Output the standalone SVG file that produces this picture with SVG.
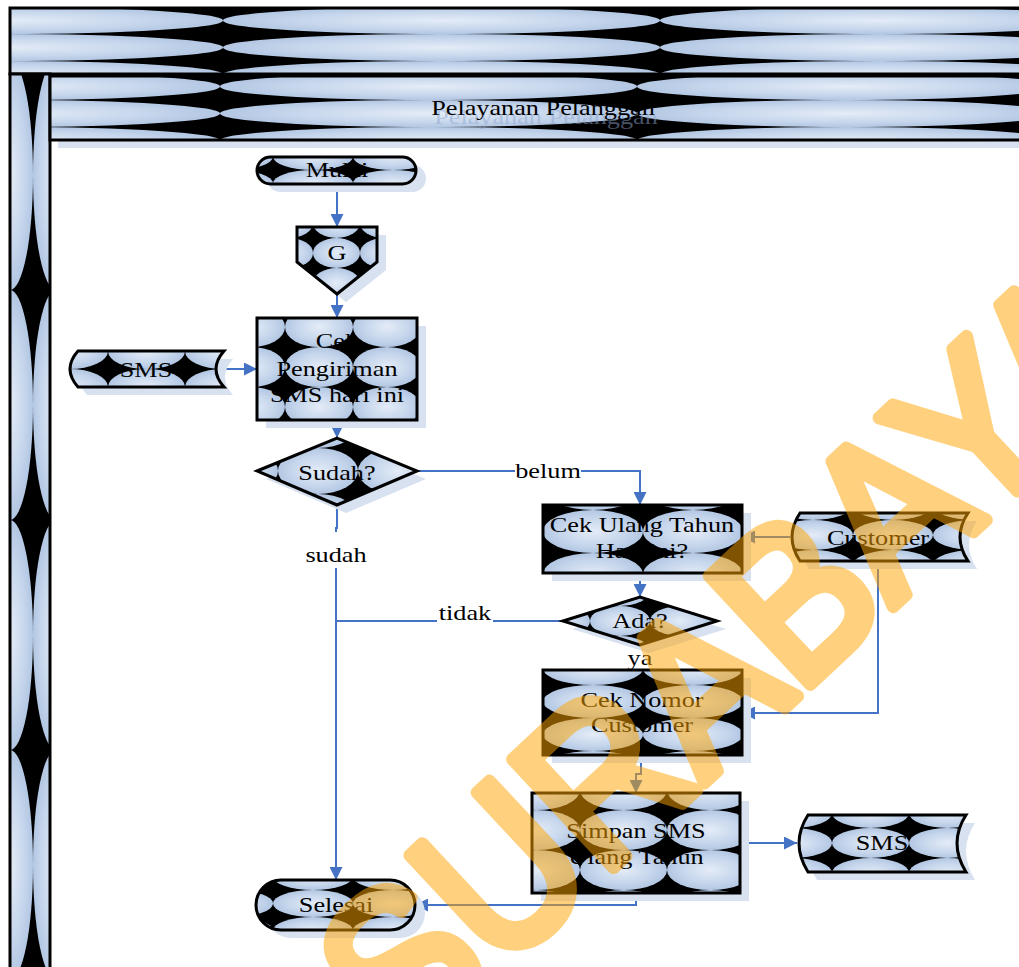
<svg xmlns="http://www.w3.org/2000/svg" width="1019" height="967" viewBox="0 0 1019 967">
<style>
.t{font-family:"Liberation Serif","Times New Roman",serif;font-size:21px;fill:#000;text-anchor:middle}
.n{stroke:#000;stroke-width:3;stroke-linejoin:miter}
.sh{fill:#d7e1f0;stroke:none}
.c{fill:none;stroke:#4472c4;stroke-width:2}
.lb{fill:#fff}
.wm{font-family:"Liberation Sans",Arial,sans-serif;font-size:215px;fill:#ffa500;stroke:#ffa500;stroke-width:13;stroke-linejoin:round}
</style>
<defs>
<radialGradient id="rg" cx="0.5" cy="0.5" r="0.5">
<stop offset="0" stop-color="#e4ecf7"/>
<stop offset="0.65" stop-color="#c6d6ec"/>
<stop offset="1" stop-color="#b3c7e3"/>
</radialGradient>
<pattern id="pTop" patternUnits="userSpaceOnUse" x="223" y="7" width="437" height="27"><rect width="437" height="27" fill="#000"/><ellipse cx="218.5" cy="13.5" rx="218.5" ry="13.5" fill="url(#rg)"/></pattern>
<pattern id="pLane" patternUnits="userSpaceOnUse" x="220" y="73" width="417" height="27"><rect width="417" height="27" fill="#000"/><ellipse cx="208.5" cy="13.5" rx="208.5" ry="13.5" fill="url(#rg)"/></pattern>
<pattern id="pLeft" patternUnits="userSpaceOnUse" x="33" y="290" width="46" height="230"><rect width="46" height="230" fill="#000"/><ellipse cx="23" cy="115" rx="23" ry="115" fill="url(#rg)"/></pattern>
<pattern id="pMulai" patternUnits="userSpaceOnUse" x="273" y="143" width="80" height="27"><rect width="80" height="27" fill="#000"/><ellipse cx="40" cy="13.5" rx="40" ry="13.5" fill="url(#rg)"/></pattern>
<pattern id="pG" patternUnits="userSpaceOnUse" x="313" y="238" width="47" height="30"><rect width="47" height="30" fill="#000"/><ellipse cx="23.5" cy="15" rx="23.5" ry="15" fill="url(#rg)"/></pattern>
<pattern id="pCek1" patternUnits="userSpaceOnUse" x="285" y="307" width="68" height="40"><rect width="68" height="40" fill="#000"/><ellipse cx="34" cy="20" rx="34" ry="20" fill="url(#rg)"/></pattern>
<pattern id="pSms1" patternUnits="userSpaceOnUse" x="108" y="333" width="77" height="36"><rect width="77" height="36" fill="#000"/><ellipse cx="38.5" cy="18" rx="38.5" ry="18" fill="url(#rg)"/></pattern>
<pattern id="pSudah" patternUnits="userSpaceOnUse" x="278" y="448" width="80" height="46"><rect width="80" height="46" fill="#000"/><ellipse cx="40" cy="23" rx="40" ry="23" fill="url(#rg)"/></pattern>
<pattern id="pCek2" patternUnits="userSpaceOnUse" x="543" y="510" width="100" height="43"><rect width="100" height="43" fill="#000"/><ellipse cx="50" cy="21.5" rx="50" ry="21.5" fill="url(#rg)"/></pattern>
<pattern id="pCust" patternUnits="userSpaceOnUse" x="853" y="520" width="80" height="30"><rect width="80" height="30" fill="#000"/><ellipse cx="40" cy="15" rx="40" ry="15" fill="url(#rg)"/></pattern>
<pattern id="pAda" patternUnits="userSpaceOnUse" x="590" y="606" width="60" height="30"><rect width="60" height="30" fill="#000"/><ellipse cx="30" cy="15" rx="30" ry="15" fill="url(#rg)"/></pattern>
<pattern id="pCek3" patternUnits="userSpaceOnUse" x="543" y="685" width="100" height="33"><rect width="100" height="33" fill="#000"/><ellipse cx="50" cy="16.5" rx="50" ry="16.5" fill="url(#rg)"/></pattern>
<pattern id="pSimpan" patternUnits="userSpaceOnUse" x="580" y="810" width="87" height="40"><rect width="87" height="40" fill="#000"/><ellipse cx="43.5" cy="20" rx="43.5" ry="20" fill="url(#rg)"/></pattern>
<pattern id="pSms2" patternUnits="userSpaceOnUse" x="832" y="828" width="77" height="30"><rect width="77" height="30" fill="#000"/><ellipse cx="38.5" cy="15" rx="38.5" ry="15" fill="url(#rg)"/></pattern>
<pattern id="pSelesai" patternUnits="userSpaceOnUse" x="273" y="890" width="80" height="27"><rect width="80" height="27" fill="#000"/><ellipse cx="40" cy="13.5" rx="40" ry="13.5" fill="url(#rg)"/></pattern>
<marker id="ah" markerUnits="userSpaceOnUse" markerWidth="13" markerHeight="13" refX="13" refY="6.5" orient="auto" viewBox="0 0 13 13"><path d="M0,0 L13,6.5 L0,13 Z" fill="#4472c4"/></marker>
</defs>

<rect width="1019" height="967" fill="#fff"/>

<g id="pool">
<rect class="n" x="10" y="8" width="1020" height="66" fill="url(#pTop)"/>
<rect class="n" x="10" y="74" width="40" height="900" fill="url(#pLeft)"/>
<rect class="sh" x="58" y="140" width="970" height="8"/>
<rect class="n" x="50" y="76" width="980" height="64" fill="url(#pLane)"/>
<text class="t" fill-opacity="0.5" style="fill:#8fa6cc" transform="translate(546,124) scale(1.25,1)">Pelayanan Pelanggan</text>
<text class="t" transform="translate(543,115) scale(1.25,1)">Pelayanan Pelanggan</text>
</g>

<g id="connectors">
<path class="c" d="M337,184 V227" marker-end="url(#ah)"/>
<path class="c" d="M337,294 V318" marker-end="url(#ah)"/>
<path class="c" d="M223,369 H257" marker-end="url(#ah)"/>
<path class="c" d="M337,420 V438" marker-end="url(#ah)"/>
<path class="c" d="M417,471 H640 V505" marker-end="url(#ah)"/>
<path class="c" d="M337,505 V528 H336 V880" marker-end="url(#ah)"/>
<path class="c" d="M640,573 V597" marker-end="url(#ah)"/>
<path class="c" d="M563,621 H336"/>
<path class="c" d="M640,645 V670" marker-end="url(#ah)"/>
<path class="c" d="M790,537 H742" marker-end="url(#ah)"/>
<path class="c" d="M878,560 V713 H742" marker-end="url(#ah)"/>
<path class="c" d="M641,755 V774 H636 V793" marker-end="url(#ah)"/>
<path class="c" d="M740,843 H797" marker-end="url(#ah)"/>
<path class="c" d="M636,893 V905 H415" marker-end="url(#ah)"/>
<rect class="lb" x="515" y="461" width="66" height="20"/>
<text class="t" transform="translate(548,478) scale(1.25,1)">belum</text>
<rect class="lb" x="305" y="532" width="62" height="36"/>
<text class="t" transform="translate(336,562) scale(1.25,1)">sudah</text>
<rect class="lb" x="437" y="602" width="56" height="22"/>
<text class="t" transform="translate(465,620) scale(1.25,1)">tidak</text>
<rect class="lb" x="628" y="649" width="25" height="20"/>
<text class="t" transform="translate(640,665) scale(1.25,1)">ya</text>
</g>

<g id="mulai">
<rect class="sh" x="267" y="165" width="159" height="27" rx="13.5"/>
<rect class="n" x="257" y="157" width="159" height="27" rx="13.5" fill="url(#pMulai)"/>
<text class="t" transform="translate(337,177) scale(1.25,1)">Mulai</text>
</g>

<g id="g-connector">
<path class="sh" d="M306,235 H386 V270 L346,302 L306,270 Z"/>
<path class="n" d="M297,227 H377 V262 L337,294 L297,262 Z" fill="url(#pG)"/>
<text class="t" transform="translate(337,260) scale(1.25,1)">G</text>
</g>

<g id="cek-pengiriman">
<rect class="sh" x="266" y="326" width="160" height="102"/>
<rect class="n" x="257" y="318" width="160" height="102" fill="url(#pCek1)"/>
<text class="t" transform="translate(337,348) scale(1.25,1)">Cek</text>
<text class="t" transform="translate(337,376) scale(1.25,1)">Pengiriman</text>
<text class="t" transform="translate(337,402) scale(1.25,1)">SMS hari ini</text>
</g>

<g id="sms-in">
<path class="sh" d="M87,359 L233,359 Q217,377 233,395 L87,395 Q71,377 87,359 Z"/>
<path class="n" d="M78,351 L224,351 Q208,369 224,387 L78,387 Q62,369 78,351 Z" fill="url(#pSms1)"/>
<text class="t" transform="translate(146,377) scale(1.25,1)">SMS</text>
</g>

<g id="sudah">
<path class="sh" d="M266,479 L346,446 L426,479 L346,513 Z"/>
<path class="n" d="M257,471 L337,438 L417,471 L337,505 Z" fill="url(#pSudah)"/>
<text class="t" transform="translate(337,480) scale(1.25,1)">Sudah?</text>
</g>

<g id="cek-ulang-tahun">
<rect class="sh" x="552" y="513" width="199" height="68"/>
<rect class="n" x="543" y="505" width="199" height="68" fill="url(#pCek2)"/>
<text class="t" transform="translate(642,532) scale(1.25,1)">Cek Ulang Tahun</text>
<text class="t" transform="translate(642,558) scale(1.25,1)">Hari ini?</text>
</g>

<g id="customer">
<path class="sh" d="M809,521 L977,521 Q961,545 977,569 L809,569 Q793,545 809,521 Z"/>
<path class="n" d="M800,513 L968,513 Q952,537 968,561 L800,561 Q784,537 800,513 Z" fill="url(#pCust)"/>
<text class="t" transform="translate(878,545) scale(1.25,1)">Customer</text>
</g>

<g id="ada">
<path class="sh" d="M572,629 L649,605 L726,629 L649,653 Z"/>
<path class="n" d="M563,621 L640,597 L717,621 L640,645 Z" fill="url(#pAda)"/>
<text class="t" transform="translate(640,628) scale(1.25,1)">Ada?</text>
</g>

<g id="cek-nomor">
<rect class="sh" x="552" y="678" width="199" height="85"/>
<rect class="n" x="543" y="670" width="199" height="85" fill="url(#pCek3)"/>
<text class="t" transform="translate(642,707) scale(1.25,1)">Cek Nomor</text>
<text class="t" transform="translate(642,732) scale(1.25,1)">Customer</text>
</g>

<g id="simpan">
<rect class="sh" x="541" y="801" width="208" height="100"/>
<rect class="n" x="532" y="793" width="208" height="100" fill="url(#pSimpan)"/>
<text class="t" transform="translate(636,838) scale(1.25,1)">Simpan SMS</text>
<text class="t" transform="translate(636,864) scale(1.25,1)">Ulang Tahun</text>
</g>

<g id="sms-out">
<path class="sh" d="M817,823 L975,823 Q957,851 975,880 L817,880 Q799,851 817,823 Z"/>
<path class="n" d="M808,815 L966,815 Q948,843 966,872 L808,872 Q790,843 808,815 Z" fill="url(#pSms2)"/>
<text class="t" transform="translate(882,850) scale(1.25,1)">SMS</text>
</g>

<g id="selesai">
<rect class="sh" x="266" y="888" width="159" height="50" rx="25"/>
<rect class="n" x="256" y="880" width="159" height="50" rx="25" fill="url(#pSelesai)"/>
<text class="t" transform="translate(336,912) scale(1.25,1)">Selesai</text>
</g>

<g id="watermark" opacity="0.5">
<text class="wm" transform="translate(405,1062) rotate(-43) scale(0.9,1)">SURABAYA</text>
</g>
</svg>
